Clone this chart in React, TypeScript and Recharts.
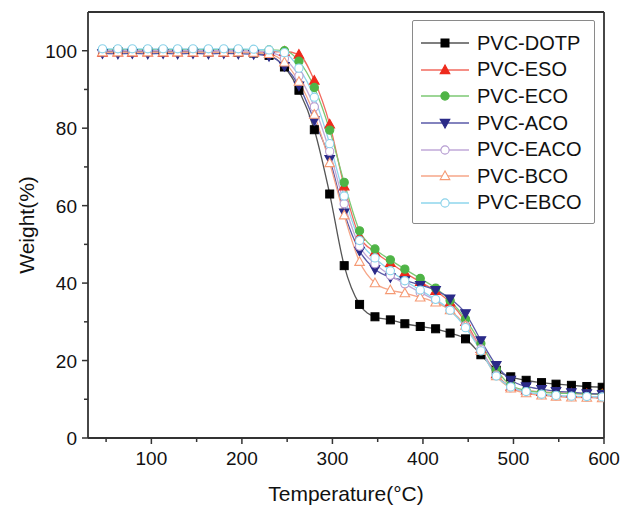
import React from "react";
import { LineChart, Line, XAxis, YAxis, ReferenceLine, Legend } from "recharts";

const temps = [46, 63, 79, 96, 113, 129, 146, 163, 180, 196, 213, 230, 247, 263, 280, 297, 313, 330, 347, 364, 380, 397, 414, 430, 447, 464, 481, 497, 514, 531, 547, 564, 581, 598];

const dotp = [99.7, 99.8, 99.7, 99.8, 99.7, 99.8, 99.7, 99.7, 99.6, 99.6, 99.4, 98.8, 95.8, 89.8, 79.6, 63.0, 44.5, 34.5, 31.3, 30.5, 29.5, 28.8, 28.2, 27.1, 25.6, 21.5, 17.5, 15.8, 14.9, 14.3, 13.9, 13.6, 13.3, 13.1];
const eso = [99.5, 99.6, 99.5, 99.6, 99.5, 99.6, 99.5, 99.6, 99.5, 99.6, 99.6, 99.7, 99.8, 99.0, 92.3, 81.0, 65.0, 52.0, 48.0, 45.2, 42.7, 40.3, 38.0, 35.0, 30.0, 23.0, 16.5, 13.3, 12.3, 11.9, 11.7, 11.5, 11.4, 11.3];
const eco = [100.2, 100.3, 100.2, 100.3, 100.2, 100.3, 100.2, 100.3, 100.2, 100.3, 100.2, 100.2, 100.0, 97.3, 90.5, 79.5, 66.0, 53.5, 48.8, 46.0, 43.6, 41.2, 38.7, 35.5, 30.7, 24.4, 17.7, 13.6, 12.3, 11.8, 11.6, 11.5, 11.4, 11.3];
const aco = [99.3, 99.2, 99.3, 99.2, 99.3, 99.2, 99.3, 99.2, 99.3, 99.2, 99.1, 98.6, 96.0, 91.0, 82.0, 72.0, 58.2, 48.3, 43.6, 41.5, 40.7, 39.5, 38.2, 36.0, 32.2, 25.2, 18.8, 15.0, 13.3, 12.6, 12.1, 11.8, 11.5, 11.3];
const eaco = [100.0, 100.0, 100.0, 100.0, 100.0, 100.0, 100.0, 100.0, 100.0, 100.0, 99.9, 99.6, 98.0, 93.5, 85.5, 74.0, 60.5, 49.5, 45.0, 42.0, 39.8, 37.6, 35.5, 33.0, 29.0, 23.0, 16.2, 13.0, 11.8, 11.2, 10.9, 10.7, 10.6, 10.5];
const bco = [99.6, 99.6, 99.6, 99.6, 99.6, 99.6, 99.6, 99.6, 99.6, 99.6, 99.5, 99.2, 97.0, 92.0, 83.5, 71.0, 57.5, 45.5, 40.0, 38.2, 37.4, 36.3, 35.0, 33.0, 29.0, 22.5, 16.0, 12.8, 11.6, 11.0, 10.7, 10.5, 10.4, 10.3];
const ebco = [100.5, 100.5, 100.5, 100.5, 100.5, 100.5, 100.5, 100.5, 100.5, 100.5, 100.4, 100.2, 99.5, 95.5, 88.0, 76.0, 62.5, 51.0, 46.5, 43.2, 40.6, 38.2, 35.8, 33.0, 28.5, 22.5, 16.0, 13.2, 12.0, 11.3, 11.0, 10.8, 10.7, 10.6];

const xTicks = [50, 100, 150, 200, 250, 300, 350, 400, 450, 500, 550, 600];
const yTicks = [0, 10, 20, 30, 40, 50, 60, 70, 80, 90, 100];

type Shape = "square" | "triUp" | "circle" | "triDown";

const series = [
  { key: "dotp", name: "PVC-DOTP", values: dotp, line: "#555555", stroke: "#000000", fill: "#000000", shape: "square" as Shape },
  { key: "eso", name: "PVC-ESO", values: eso, line: "#f26a5e", stroke: "#ee2a1c", fill: "#ee2a1c", shape: "triUp" as Shape },
  { key: "eco", name: "PVC-ECO", values: eco, line: "#7cc873", stroke: "#4fb446", fill: "#4fb446", shape: "circle" as Shape },
  { key: "aco", name: "PVC-ACO", values: aco, line: "#5a5aa8", stroke: "#2a2a88", fill: "#2a2a88", shape: "triDown" as Shape },
  { key: "eaco", name: "PVC-EACO", values: eaco, line: "#c0a8d8", stroke: "#b49ad0", fill: "#ffffff", shape: "circle" as Shape },
  { key: "bco", name: "PVC-BCO", values: bco, line: "#f6a688", stroke: "#f59a74", fill: "#ffffff", shape: "triUp" as Shape },
  { key: "ebco", name: "PVC-EBCO", values: ebco, line: "#8ed6ec", stroke: "#8ad2ea", fill: "#ffffff", shape: "circle" as Shape },
];

const data = temps.map((t, i) => {
  const row: Record<string, number> = { t };
  series.forEach((s) => (row[s.key] = s.values[i]));
  return row;
});

const FONT = '"Liberation Sans", Arial, sans-serif';
const AXIS = "#333333";

const Marker = ({ shape, cx, cy, stroke, fill }: { shape: Shape; cx: number; cy: number; stroke: string; fill: string }) => {
  if (shape === "square") return <rect x={cx - 4} y={cy - 4} width={8} height={8} fill={fill} stroke={stroke} strokeWidth={1} />;
  if (shape === "circle") return <circle cx={cx} cy={cy} r={4.1} fill={fill} stroke={stroke} strokeWidth={1.1} />;
  if (shape === "triUp")
    return <polygon points={`${cx},${cy - 5} ${cx - 4.8},${cy + 3.6} ${cx + 4.8},${cy + 3.6}`} fill={fill} stroke={stroke} strokeWidth={1.1} />;
  return <polygon points={`${cx},${cy + 5} ${cx - 4.8},${cy - 3.6} ${cx + 4.8},${cy - 3.6}`} fill={fill} stroke={stroke} strokeWidth={1.1} />;
};

const makeDot = (s: (typeof series)[number]) => (p: any) => {
  if (p.cx == null || p.cy == null) return <g key={p.key} />;
  return (
    <g key={p.key}>
      <Marker shape={s.shape} cx={p.cx} cy={p.cy} stroke={s.stroke} fill={s.fill} />
    </g>
  );
};

const XTick = ({ x, y, payload }: any) => {
  const major = payload.value % 100 === 0;
  return (
    <g>
      <line x1={x} y1={y} x2={x} y2={y + (major ? 6 : 4)} stroke={AXIS} strokeWidth={1.5} />
      {major && (
        <text x={x} y={y + 27} textAnchor="middle" fontSize={19} fontFamily={FONT} fill="#111">
          {payload.value}
        </text>
      )}
    </g>
  );
};

const YTick = ({ x, y, payload }: any) => {
  const major = payload.value % 20 === 0;
  return (
    <g>
      <line x1={x - (major ? 6 : 4)} y1={y} x2={x} y2={y} stroke={AXIS} strokeWidth={1.5} />
      {major && (
        <text x={x - 11} y={y + 7} textAnchor="end" fontSize={19} fontFamily={FONT} fill="#111">
          {payload.value}
        </text>
      )}
    </g>
  );
};

const LegendBox = () => (
  <div
    style={{
      width: 183,
      height: 204,
      boxSizing: "border-box",
      border: "1px solid #8a8a8a",
      borderRadius: 2,
      paddingTop: 9,
      background: "#fff",
    }}
  >
    {series.map((s) => (
      <div key={s.key} style={{ display: "flex", alignItems: "center", height: 26.6 }}>
        <svg width={64} height={20} style={{ flexShrink: 0 }}>
          <line x1={8} y1={10} x2={56} y2={10} stroke={s.line} strokeWidth={1.3} />
          <Marker shape={s.shape} cx={32} cy={10} stroke={s.stroke} fill={s.fill} />
        </svg>
        <span style={{ fontFamily: FONT, fontSize: 20, color: "#111", whiteSpace: "nowrap" }}>{s.name}</span>
      </div>
    ))}
  </div>
);

export default function App() {
  return (
    <div style={{ position: "absolute", left: 0, top: 0, width: 622, height: 506, background: "#fff" }}>
      <LineChart width={622} height={506} data={data} margin={{ top: 12, right: 18, bottom: 0, left: 0 }}>
        <XAxis
          dataKey="t"
          type="number"
          domain={[30, 600]}
          ticks={xTicks}
          interval={0}
          tickSize={0}
          tickMargin={0}
          tick={<XTick />}
          height={68}
          stroke={AXIS}
          strokeWidth={1.8}
          allowDataOverflow
          label={{ value: "Temperature(°C)", position: "insideBottom", offset: 5, style: { fontFamily: FONT, fontSize: 21, fill: "#111" } }}
        />
        <YAxis
          type="number"
          domain={[0, 110]}
          ticks={yTicks}
          interval={0}
          tickSize={0}
          tickMargin={0}
          tick={<YTick />}
          width={88}
          stroke={AXIS}
          strokeWidth={1.8}
          allowDataOverflow
          label={{ value: "Weight(%)", angle: -90, position: "insideLeft", offset: 27, style: { textAnchor: "middle", fontFamily: FONT, fontSize: 21, fill: "#111" } }}
        />
        <ReferenceLine y={110} stroke={AXIS} strokeWidth={1.8} />
        <ReferenceLine x={600} stroke={AXIS} strokeWidth={1.8} />
        <Legend
          layout="vertical"
          align="center"
          verticalAlign="middle"
          wrapperStyle={{ top: 20, left: 412, width: 183 }}
          content={() => <LegendBox />}
        />
        {series.map((s) => (
          <Line
            key={s.key}
            type="monotone"
            dataKey={s.key}
            name={s.name}
            stroke={s.line}
            strokeWidth={1.3}
            dot={makeDot(s)}
            activeDot={false}
            isAnimationActive={false}
          />
        ))}
      </LineChart>
    </div>
  );
}
